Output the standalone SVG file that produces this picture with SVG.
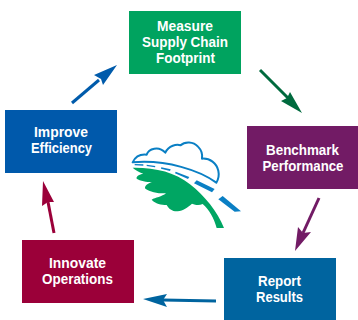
<svg xmlns="http://www.w3.org/2000/svg" width="358" height="320" viewBox="0 0 358 320">
<style>
text{font-family:"Liberation Sans",Arial,sans-serif;font-weight:700;font-size:13.800px;fill:#fff;text-anchor:middle}
.ln{fill:none;stroke-width:3}
</style>
<rect width="358" height="320" fill="#fff"/>
<g id="logo">
<g transform="translate(110 130) scale(.3333)">
<path d="M68 113C135 112 195 126 240 163C285 198 322 245 342 294L320 294C312 264 298 240 278 222C268 227 258 226 246 221C232 233 220 242 203 244C188 245 176 237 170 225C154 225 136 221 125 209C136 203 156 200 168 190C146 191 120 186 106 176C102 168 114 160 126 156C110 156 90 153 80 146C78 138 88 133 100 131C86 126 76 120 68 113Z" fill="#00a663"/>
<path d="M68 97C76 80 92 72 110 74C116 56 146 46 166 68C176 46 200 42 212 46C224 34 250 34 264 50C274 60 278 74 276 86C300 84 320 100 325 122C328 136 325 148 319 158C270 122 170 88 68 97Z" fill="#fff" stroke="#0a7fc4" stroke-width="6" stroke-linejoin="round"/>
<g fill="#0a7fc4">
<path d="M74 102L100 103L100 107L74 106Z"/>
<path d="M110 104L136 108L135 112L110 108Z"/>
<path d="M154 112L182 118L180 123L153 116Z"/>
<path d="M197 125L238 141L234 147L195 130Z"/>
<path d="M260 151L314 177L306 187L252 160Z"/>
<path d="M338 198L393 244L374 245L325 208Z"/>
</g>
</g>
</g>
<g id="connectors">
<g id="c1"><path class="ln" stroke="#005bab" d="M72 103L99 80"/><path fill="#005bab" d="M117 65L103 85L101 79L94 75Z"/></g>
<g id="c2"><path class="ln" stroke="#006a3e" d="M260 70L288 98"/><path fill="#006a3e" d="M302 113L281 101L287 98L290 92Z"/></g>
<g id="c3"><path class="ln" stroke="#721b65" d="M319 198L303 233"/><path fill="#721b65" d="M295 251L298 227L303 233L311 232Z"/></g>
<g id="c4"><path class="ln" stroke="#00649f" d="M216 301L163 300"/><path fill="#00649f" d="M143 299L167 294L163 300L167 307Z"/></g>
<g id="c5"><path class="ln" stroke="#9b0039" d="M54 233L48 202"/><path fill="#9b0039" d="M43 181L54 202L48 202L42 206Z"/></g>
</g>
<g id="measure"><rect x="129" y="11" width="112" height="63" fill="#00a35f"/>
<text x="185" y="31" textLength="56" lengthAdjust="spacingAndGlyphs">Measure</text>
<text x="185" y="47" textLength="86" lengthAdjust="spacingAndGlyphs">Supply Chain</text>
<text x="185.500" y="63" textLength="59" lengthAdjust="spacingAndGlyphs">Footprint</text></g>
<g id="benchmark"><rect x="247" y="126" width="111" height="63" fill="#721b65"/>
<text x="302.500" y="155" textLength="73" lengthAdjust="spacingAndGlyphs">Benchmark</text>
<text x="303" y="171" textLength="81" lengthAdjust="spacingAndGlyphs">Performance</text></g>
<g id="report"><rect x="224" y="258" width="112" height="62" fill="#00649f"/>
<text x="279.500" y="286" textLength="43" lengthAdjust="spacingAndGlyphs">Report</text>
<text x="279.500" y="302" textLength="47" lengthAdjust="spacingAndGlyphs">Results</text></g>
<g id="innovate"><rect x="22" y="240" width="112" height="63" fill="#9b0039"/>
<text x="77.500" y="268" textLength="57" lengthAdjust="spacingAndGlyphs">Innovate</text>
<text x="77.500" y="284" textLength="71" lengthAdjust="spacingAndGlyphs">Operations</text></g>
<g id="improve"><rect x="5" y="110" width="112" height="63" fill="#0059ab"/>
<text x="61" y="137" textLength="54" lengthAdjust="spacingAndGlyphs">Improve</text>
<text x="61.500" y="153" textLength="61" lengthAdjust="spacingAndGlyphs">Efficiency</text></g>
</svg>
